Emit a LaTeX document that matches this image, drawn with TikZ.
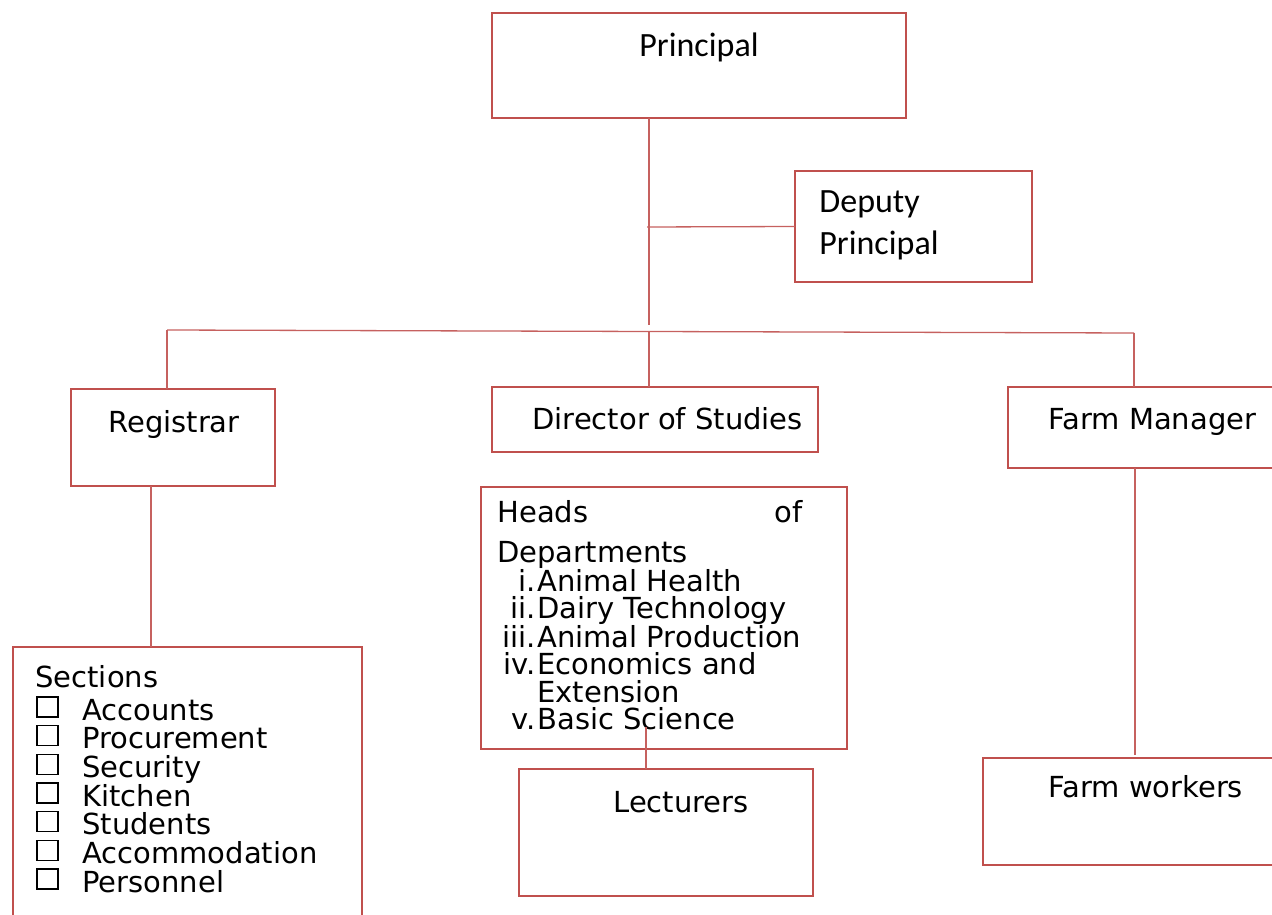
\documentclass[tikz,border=0pt]{standalone}
\usepackage{fontspec}
\setmainfont{DejaVu Sans}
\newfontfamily\calibrifont{Carlito}
\definecolor{chartred}{HTML}{C0504D}

\begin{document}
\begin{tikzpicture}[x=0.5pt, y=-0.5pt,
    chartbox/.style 2 args={draw=chartred, line width=0.7pt, minimum width=#1*0.5pt,
        minimum height=#2*0.5pt, inner sep=0pt, outer sep=0pt},
    link/.style={draw=chartred!90, line width=0.65pt},
    lbl/.style={inner sep=0pt, anchor=base west, font=\fontsize{14.5}{17}\selectfont},
    clbl/.style={lbl, font=\calibrifont\fontsize{17}{20}\selectfont}]
    \useasboundingbox (0,0) rectangle (1272,914);
    \clip (0,0) rectangle (1272,914);

    % boxes
    \node[chartbox={414}{105}] (principal) at (699,65.5) {};
    \node[chartbox={237}{111}] (deputy) at (913.5,226.5) {};
    \node[chartbox={204}{97}] (registrar) at (173,437.5) {};
    \node[chartbox={326}{65}] (director) at (655,419.5) {};
    \node[chartbox={282}{81}] (farmmgr) at (1149,427.5) {};
    \node[chartbox={349}{283}] (sections) at (187.5,788.5) {};
    \node[chartbox={366}{262}] (heads) at (664,618) {};
    \node[chartbox={294}{127}] (lecturers) at (666,832.5) {};
    \node[chartbox={307}{107}] (farmwork) at (1136.5,811.5) {};

    % texts
    \node[clbl] (principal-t) at (639,57) {Principal};
    \node[clbl] (deputy-t1) at (819,213) {Deputy};
    \node[clbl] (deputy-t2) at (819,255) {Principal};
    \node[lbl] (registrar-t) at (108,432) {Registrar};
    \node[lbl] (director-t) at (532,429) {Director of Studies};
    \node[lbl] (farmmgr-t) at (1048,429) {Farm Manager};
    \node[lbl] (lecturers-t) at (613,812) {Lecturers};
    \node[lbl] (farmwork-t) at (1048,797) {Farm workers};

    \node[lbl] (heads-t1) at (497,522) {Heads};
    \node[lbl, anchor=base east] (heads-t2) at (803,522) {of};
    \node[lbl] (heads-t3) at (497,562) {Departments};
    \foreach \num/\dept/\yb [count=\k] in {i./Animal Health/591, ii./Dairy Technology/618,
        iii./Animal Production/647, iv./Economics and/674, v./Basic Science/729} {
        \node[lbl, anchor=base east] (dnum-\k) at (536,\yb) {\num};
        \node[lbl] (dept-\k) at (537,\yb) {\dept};
    }
    \node[lbl] (dept-ext) at (537,702) {Extension};

    \node[lbl] (sections-t) at (35,687) {Sections};
    \foreach \sec [count=\k] in {Accounts, Procurement, Security, Kitchen,
        Students, Accommodation, Personnel} {
        \pgfmathsetmacro\yb{720+28.67*(\k-1)}
        \node[lbl] (sec-\k) at (82,\yb) {\sec};
        \draw[line width=0.6pt] (37,\yb-23) rectangle (58,\yb-3);
    }

    % connectors
    \coordinate (stem) at (649,325);
    \coordinate (deptap) at (647,227);
    \coordinate (barL) at (167,330);
    \coordinate (barM) at (649,331);
    \coordinate (barR) at (1134,333);
    \coordinate (regtap) at (151,486);
    \coordinate (lectap) at (646,727);
    \coordinate (farmtap) at (1135,755);

    \draw[link] (principal.south -| stem) -- (stem);
    \draw[link] (deptap) -- (deputy.west);
    \draw[link] (barL) -- (barR);
    \draw[link] (barL) -- (barL |- registrar.north);
    \draw[link] (barM) -- (barM |- director.north);
    \draw[link] (barR) -- (barR |- farmmgr.north);
    \draw[link] (regtap) -- (regtap |- sections.north);
    \draw[link] (lectap) -- (lectap |- lecturers.north);
    \draw[link] (farmmgr.south -| farmtap) -- (farmtap);
\end{tikzpicture}
\end{document}
